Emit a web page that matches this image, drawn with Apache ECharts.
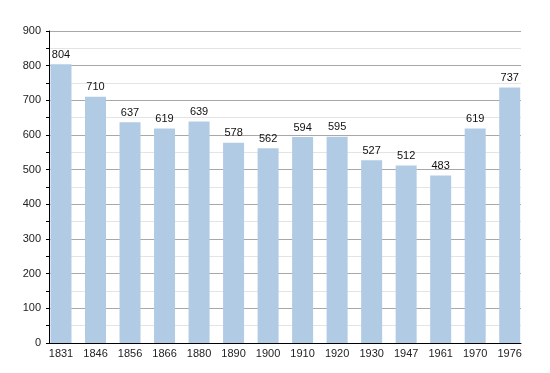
<!DOCTYPE html>
<html><head><meta charset="utf-8">
<script src="https://cdn.jsdelivr.net/npm/echarts@6/dist/echarts.min.js"></script>
<style>html,body{margin:0;padding:0;background:#fff}#c{width:550px;height:373px}</style>
</head><body><div id="c"></div>
<script>
const years = ['1831','1846','1856','1866','1880','1890','1900','1910','1920','1930','1947','1961','1970','1976'];
const population = [804,710,637,619,639,578,562,594,595,527,512,483,619,737];
const yTicks = [0,100,200,300,400,500,600,700,800,900];

const chart = echarts.init(document.getElementById('c'));
const font = 'Liberation Sans, Arial, sans-serif';
chart.setOption({
  animation: false,
  grid: [
    {left: 49, right: 29, top: 31, bottom: 30},
    {left: 61, right: 40.3, top: 31, bottom: 30}
  ],
  xAxis: [
    {gridIndex: 0, type: 'value', min: 0, max: 1, axisLine: {show: true, lineStyle: {color: '#000', width: 1}},
     axisTick: {show: false}, axisLabel: {show: false}, splitLine: {show: false}},
    {gridIndex: 1, type: 'category', data: years, boundaryGap: false,
     axisLine: {show: false}, axisTick: {show: false},
     axisLabel: {color: '#222', fontSize: 11, fontFamily: font, margin: 5}}
  ],
  yAxis: [
    {gridIndex: 0, type: 'value', min: yTicks[0], max: yTicks[yTicks.length-1], interval: 100,
     axisLine: {show: true, lineStyle: {color: '#000', width: 1}},
     axisTick: {show: true, length: 3, lineStyle: {color: '#000'}},
     minorTick: {show: true, splitNumber: 2, length: 3, lineStyle: {color: '#000'}},
     axisLabel: {color: '#222', fontSize: 11, fontFamily: font, margin: 8},
     splitLine: {show: true, lineStyle: {color: '#a8a8a8', width: 1}},
     minorSplitLine: {show: true, lineStyle: {color: '#e4e4e4', width: 1}}},
    {gridIndex: 1, type: 'value', min: yTicks[0], max: yTicks[yTicks.length-1], show: false}
  ],
  series: [{
    type: 'bar', xAxisIndex: 1, yAxisIndex: 1, data: population, barWidth: 21,
    itemStyle: {color: '#b1cbe5'},
    label: {show: true, position: 'top', distance: 4, color: '#111', fontSize: 11, fontFamily: font}
  }]
});
</script></body></html>
